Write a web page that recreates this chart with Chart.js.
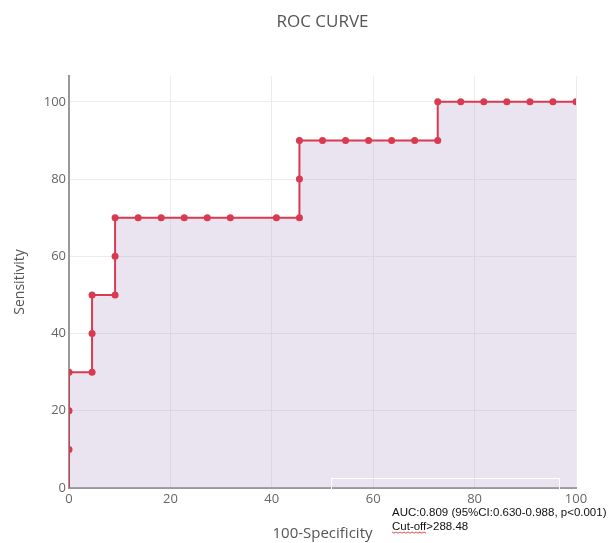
<!DOCTYPE html>
<html>
<head>
<meta charset="utf-8">
<script src="https://cdn.jsdelivr.net/npm/chart.js@4"></script>
<style>
  html, body { margin: 0; padding: 0; background: #fff; }
  #wrap { width: 608px; height: 543px; }
</style>
</head>
<body>
<div id="wrap"><canvas id="rocChart"></canvas></div>
<script>
// 100-Specificity (x) and Sensitivity (y) for each point on the curve
var specificity = [0, 0, 0, 0, 4.55, 4.55, 4.55, 9.09, 9.09, 9.09, 13.64, 18.18, 22.73, 27.27, 31.82, 40.91, 45.45, 45.45, 45.45, 50, 54.55, 59.09, 63.64, 68.18, 72.73, 72.73, 77.27, 81.82, 86.36, 90.91, 95.45, 100];
var sensitivity = [0, 10, 20, 30, 30, 40, 50, 50, 60, 70, 70, 70, 70, 70, 70, 70, 70, 80, 90, 90, 90, 90, 90, 90, 90, 100, 100, 100, 100, 100, 100, 100];
var xTicks = [0, 20, 40, 60, 80, 100];
var yTicks = [0, 20, 40, 60, 80, 100];
var titleText = "ROC CURVE";
var aucText = "AUC:0.809 (95%CI:0.630-0.988, p<0.001)";
var cutoffText = "Cut-off>288.48";

var points = specificity.map(function (x, i) { return { x: x, y: sensitivity[i] }; });

// title centred over the plot, plus the annotation text under it
var notePlugin = {
  id: "note",
  afterDraw: function (chart) {
    var c = chart.ctx, a = chart.chartArea;
    c.save();
    c.fillStyle = "#555";
    c.font = "17px 'Open Sans', sans-serif";
    c.textAlign = "center";
    c.textBaseline = "middle";
    c.fillText(titleText, (a.left + a.right) / 2, 22);

    c.strokeStyle = "#ffffff";
    c.lineWidth = 1;
    c.strokeRect(331.5, a.bottom - 9.5, 228, 14);
    c.fillStyle = "#111";
    c.textAlign = "left";
    c.font = "11.5px 'Liberation Sans', Arial, sans-serif";
    c.textBaseline = "alphabetic";
    c.fillText(aucText, 392, a.bottom + 28);
    c.fillText(cutoffText, 392, a.bottom + 42);
    // red squiggle under "Cut-off"
    var w = c.measureText("Cut-off").width;
    c.strokeStyle = "#d22";
    c.lineWidth = 0.8;
    c.beginPath();
    for (var i = 0; i <= w; i += 2) {
      var yy = a.bottom + 44 + (i % 4 === 0 ? 0 : 1.2);
      if (i === 0) c.moveTo(392 + i, yy); else c.lineTo(392 + i, yy);
    }
    c.stroke();
    c.restore();
  }
};

var ctx = document.getElementById("rocChart").getContext("2d");
var rocChart = new Chart(ctx, {
  type: "line",
  data: {
    datasets: [
      {
        label: "ROC",
        data: points,
        borderColor: "#d93a50",
        backgroundColor: "#d93a50",
        borderWidth: 2,
        pointRadius: points.map(function (p, i) { return i === 0 ? 0 : 3.5; }),
        pointBorderWidth: 0,
        pointBackgroundColor: "#d93a50",
        tension: 0,
        fill: { target: "origin", above: "rgba(190,170,210,0.33)" },
      },
    ],
  },
  plugins: [notePlugin],
  options: {
    responsive: true,
    maintainAspectRatio: false,
    animation: false,
    layout: { padding: { left: 8, right: 32, top: 76, bottom: 0 } },
    plugins: {
      legend: { display: false },
      tooltip: { enabled: false },
      title: { display: false },
    },
    scales: {
      x: {
        type: "linear",
        min: 0,
        max: 100,
        afterFit: function (s) { s.height = 55; },
        afterBuildTicks: function (s) { s.ticks = xTicks.map(function (v) { return { value: v }; }); },
        grid: { color: "#ececec", drawTicks: false },
        border: { color: "#999", width: 2 },
        ticks: { color: "#666", padding: 3, font: { family: "'Open Sans', sans-serif", size: 13 } },
        title: {
          display: true,
          text: "100-Specificity",
          color: "#555",
          font: { family: "'Open Sans', sans-serif", size: 15 },
          padding: { top: 16, bottom: 0 },
        },
      },
      y: {
        type: "linear",
        min: 0,
        max: 106.7,
        afterFit: function (s) { s.width = 61; },
        afterBuildTicks: function (s) { s.ticks = yTicks.map(function (v) { return { value: v }; }); },
        grid: { color: "#ececec", drawTicks: false },
        border: { color: "#999", width: 2 },
        ticks: { color: "#666", padding: 3, font: { family: "'Open Sans', sans-serif", size: 13 } },
        title: {
          display: true,
          text: "Sensitivity",
          color: "#555",
          font: { family: "'Open Sans', sans-serif", size: 14 },
          padding: { bottom: 10 },
        },
      },
    },
  },
});
</script>
</body>
</html>
